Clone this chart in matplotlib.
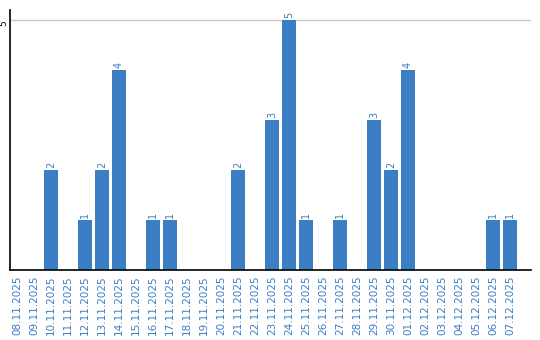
import matplotlib
matplotlib.use("Agg")
import matplotlib.pyplot as plt
import numpy as np

datas = ["08.11.2025", "09.11.2025", "10.11.2025", "11.11.2025", "12.11.2025",
         "13.11.2025", "14.11.2025", "15.11.2025", "16.11.2025", "17.11.2025",
         "18.11.2025", "19.11.2025", "20.11.2025", "21.11.2025", "22.11.2025",
         "23.11.2025", "24.11.2025", "25.11.2025", "26.11.2025", "27.11.2025",
         "28.11.2025", "29.11.2025", "30.11.2025", "01.12.2025", "02.12.2025",
         "03.12.2025", "04.12.2025", "05.12.2025", "06.12.2025", "07.12.2025"]
valores = [0, 0, 2, 0, 1, 2, 4, 0, 1, 1, 0, 0, 0, 2, 0,
           3, 5, 1, 0, 1, 0, 3, 2, 4, 0, 0, 0, 0, 1, 1]

azul = "#3b7ec4"

fig = plt.figure(figsize=(5.4, 3.4), dpi=100)
ax = fig.add_axes([10/540, 70/340, 521/540, 260/340])

x = np.arange(len(datas))
ax.bar(x, valores, width=0.82, color=azul, zorder=2)

# rotulos em cima das barras
for xi, v in zip(x, valores):
    if v > 0:
        ax.text(xi, v + 0.05, str(v), rotation=90, ha="center", va="bottom",
                color=azul, fontsize=7)

ax.axhline(5, color="#c8c8c8", linewidth=1, zorder=1)
ax.set_xlim(-0.41, 30.24)
ax.set_ylim(0, 5.2)

ax.set_xticks(x)
ax.set_xticklabels(datas, rotation=90, color=azul, fontsize=7.5)
ax.set_yticks([4.94])
ax.set_yticklabels(["5"], rotation=90, fontsize=6.5, va="center")
ax.tick_params(axis="x", length=0, pad=4)
ax.tick_params(axis="y", length=0, pad=1)

ax.spines["top"].set_visible(False)
ax.spines["right"].set_visible(False)
ax.spines["left"].set_linewidth(1.2)
ax.spines["bottom"].set_linewidth(1.2)

plt.savefig("out.png")
